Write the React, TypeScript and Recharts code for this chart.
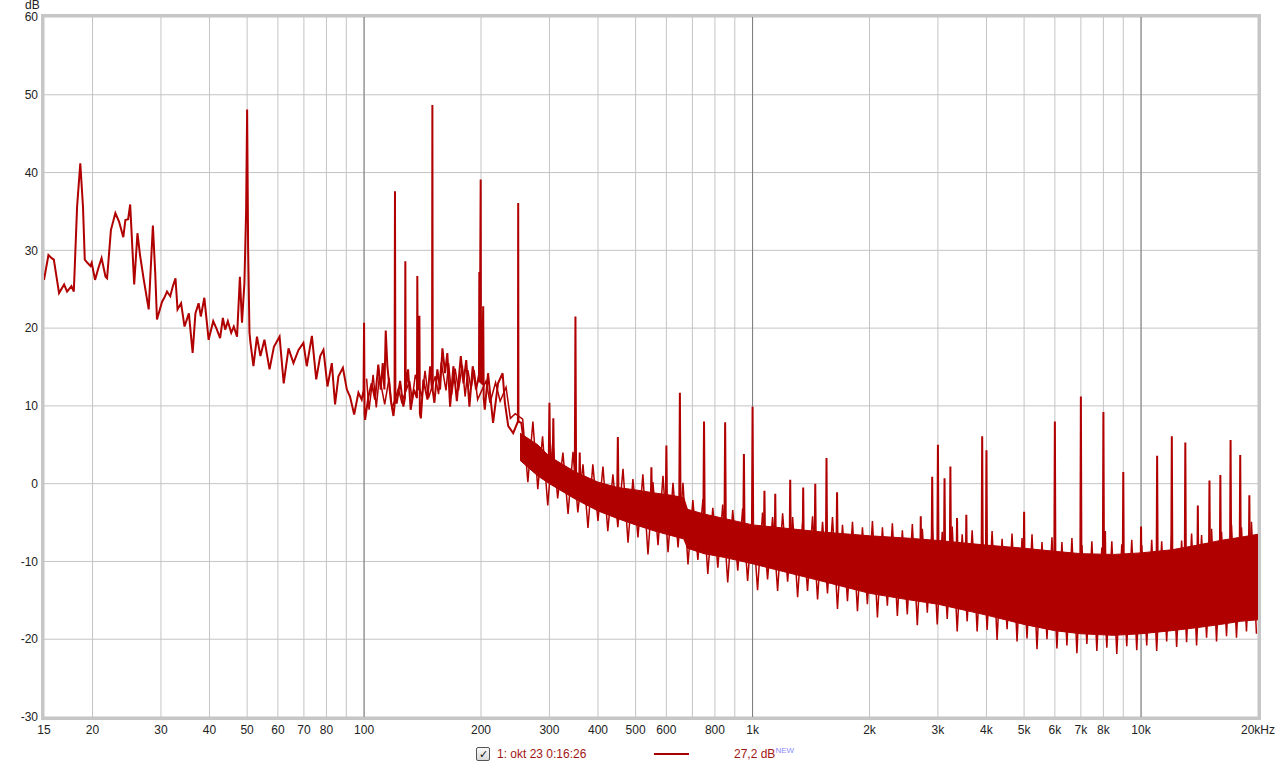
import React from 'react';
import {
  ComposedChart,
  Line,
  Area,
  XAxis,
  YAxis,
  CartesianGrid,
} from 'recharts';

// ---- Trace (line): low-frequency detail + harmonic spikes over the noise floor ----
const traceFreq = [
  15.0, 15.4, 15.7, 15.9, 16.4, 16.9, 17.2, 17.65, 17.9, 18.25, 18.6, 18.9, 19.1, 19.4, 19.75, 19.9,
  20.3, 20.7, 21.1, 21.6, 21.8, 22.3, 22.9, 23.4, 24.0, 24.3, 24.7, 25.0, 25.6, 26.1, 26.5, 27.1,
  27.9, 28.6, 29.0, 29.3, 30.2, 30.6, 31.1, 31.7, 32.2, 32.7, 33.1, 33.8, 34.5, 35.4, 36.2, 36.8,
  37.5, 38.0, 38.8, 39.8, 40.9, 41.8, 42.6, 43.3, 43.9, 44.6, 45.5, 46.2, 47.1, 47.9, 48.5, 49.2,
  49.7, 50.0, 50.3, 50.7, 51.0, 51.9, 53.0, 54.1, 55.4, 57.1, 58.6, 60.6, 62.1, 63.9, 65.8, 67.8,
  69.8, 71.2, 73.4, 75.3, 77.1, 78.6, 80.5, 82.6, 84.2, 85.9, 88.2, 90.3, 92.0, 94.3, 96.7, 98.6,
  99.7, 100.0, 100.3, 100.6, 102.6, 104.6, 106.7, 108.8, 110.4, 111.7, 112.8, 113.7, 114.8, 117.1, 119.0, 119.8,
  120.1, 120.4, 121.4, 123.8, 126.2, 127.4, 127.7, 128.0, 129.8, 131.8, 134.4, 136.8, 137.1, 137.5, 138.8, 139.2,
  140.0, 142.1, 145.6, 147.9, 149.6, 149.9, 150.2, 151.7, 154.4, 156.9, 159.1, 161.6, 163.8, 166.5, 169.8, 173.3,
  177.4, 180.2, 183.2, 186.7, 190.4, 194.2, 197.6, 198.0, 198.4, 199.6, 200.0, 201.0, 202.6, 203.2, 204.5, 208.5,
  214.8, 221.2, 227.3, 230.4, 235.0, 242.0, 248.9, 249.3, 249.7, 254.0, 258.0,
  298.8, 300, 301.2, 305.8, 307, 308.2, 348.6, 350, 351.4, 357.6, 359, 360.4,
  448.2, 450, 451.8, 546.8, 549, 551.2, 597.6, 600, 602.4, 647.4, 650, 652.6,
  747, 750, 753, 846.6, 850, 853.4, 946.2, 950, 953.8, 996, 1000, 1004,
  1069, 1073, 1077, 1140, 1144, 1148, 1245, 1250, 1255, 1345, 1350, 1355,
  1444, 1450, 1456, 1544, 1550, 1556, 1643, 1650, 1657, 2700, 2710, 2720,
  2888, 2900, 2912, 2988, 3000, 3012, 3108, 3120, 3132, 3217, 3230, 3243,
  3346, 3360, 3374, 3536, 3550, 3564, 3884, 3900, 3916, 3984, 4000, 4016,
  4980, 5000, 5020, 5976, 6000, 6024, 6972, 7000, 7028, 7968, 8000, 8032, 8080, 8110,
  8964, 9000, 9036, 9960, 10000, 10040, 10956, 11000, 11044, 11952, 12000, 12048,
  12948, 13000, 13052, 13944, 14000, 14056, 14940, 15000, 15060, 15936, 16000, 16064,
  16932, 17000, 17068, 17928, 18000, 18072, 18924, 19000, 19076, 20000,
];
const traceDb = [
  26.2, 29.4, 29.0, 28.8, 24.5, 25.6, 24.7, 25.4, 24.7, 35.6, 41.2, 35.6, 28.8, 28.4, 28.0, 28.4,
  26.2, 27.7, 29.0, 26.6, 26.4, 32.6, 34.8, 33.7, 31.7, 33.9, 34.0, 35.9, 25.6, 32.2, 29.4, 26.2,
  22.4, 33.2, 27.1, 21.1, 23.4, 23.9, 24.7, 24.1, 25.4, 26.4, 22.4, 23.2, 20.2, 21.9, 16.8, 21.9,
  23.2, 21.5, 23.9, 18.5, 20.9, 19.8, 18.7, 21.3, 19.8, 20.9, 19.4, 20.2, 18.9, 26.6, 20.7, 25.8,
  35.0, 48.1, 30.0, 19.4, 18.1, 15.1, 18.9, 16.4, 18.5, 14.7, 17.6, 18.9, 12.9, 17.4, 15.5, 17.2,
  18.1, 15.1, 19.0, 13.4, 16.4, 17.2, 12.5, 15.5, 10.2, 13.8, 14.9, 12.1, 11.2, 8.9, 11.7, 10.8,
  12.0, 20.7, 9.0, 8.2, 11.2, 12.9, 10.8, 15.3, 12.1, 15.5, 12.1, 19.7, 15.1, 10.8, 8.7, 10.0,
  37.6, 10.4, 10.4, 13.2, 9.9, 11.0, 28.6, 12.0, 14.7, 9.5, 12.1, 11.0, 26.7, 12.0, 21.6, 9.0,
  8.4, 13.4, 10.8, 15.1, 12.0, 48.7, 12.0, 10.4, 14.7, 12.1, 17.4, 14.2, 16.8, 9.9, 15.1, 10.6,
  16.4, 12.9, 15.9, 9.9, 15.1, 12.1, 14.0, 27.2, 13.0, 39.1, 13.0, 12.9, 22.8, 11.0, 9.5, 14.2,
  7.8, 12.9, 14.2, 10.4, 7.4, 6.5, 8.0, 36.1, 8.0, 7.8, 5.0,
  3, 10.4, 3, 2, 8.4, 2, 0, 21.5, 0, -1, 4.0, -1,
  -2, 6.0, -2, -3, 2.1, -3, -3, 4.9, -3, -3.5, 11.7, -3.5,
  -5, 8.0, -5, -6, 7.9, -6, -7, 3.8, -7, -7, 9.9, -7,
  -8, -0.9, -8, -8, -1.3, -8, -9, 0.5, -9, -9, -0.5, -9,
  -9, 0.0, -9, -9.5, 3.3, -9.5, -10, -1.1, -10, -11, -4.2, -11,
  -11, 0.9, -11, -11, 5.0, -11, -11, 0.7, -11, -12, 2.2, -12,
  -12, -4.4, -12, -12, -4.0, -12, -12.5, 6.1, -12.5, -12.5, 4.3, -12.5,
  -13.5, -3.6, -13.5, -14, 8.0, -14, -14.5, 11.2, -14.5, -14.5, 9.2, -14, -6.1, -14,
  -14.5, 1.5, -14.5, -14.5, -5.5, -14.5, -14, 3.6, -14, -14, 6.1, -14,
  -13.5, 5.3, -13.5, -13.5, -2.8, -13.5, -13, 0.4, -13, -13, 1.1, -13,
  -12.5, 5.6, -12.5, -12, 3.7, -12, -12, -1.5, -12, -12,
];

// ---- Fine noise (thin line): jitter of the 100 Hz – 20 kHz floor ----
const noiseFreq = [
  101.5, 103, 105.5, 107.5, 109.5, 113, 116, 118, 122.5, 125, 131, 133, 135.5, 141, 143.5, 146.5,
  152.5, 155.5, 158, 162.5, 165, 168, 171.5, 175, 179, 182, 185, 188.5, 192, 196, 206, 211,
  218, 224, 232, 238, 245,
  256, 264, 272, 280, 288, 297, 306, 315, 325, 335, 345, 355, 366, 377, 388, 400,
  412, 424, 437, 450, 464, 478, 492, 507, 522, 538, 554, 571, 588, 606, 624, 643,
  662, 682, 702, 723, 745, 767, 790, 814, 838, 863, 889, 916, 943, 971, 1000, 1030,
  1061, 1093, 1126, 1160, 1195, 1231, 1268, 1306, 1345, 1385, 1427, 1470, 1514, 1559, 1606, 1654,
  1704, 1755, 1808, 1862, 1918, 1975, 2035, 2096, 2159, 2223, 2290, 2359, 2430, 2502, 2578, 2655,
  2735, 2817, 2901, 2988, 3078, 3170, 3265, 3363, 3464, 3568, 3675, 3785, 3899, 4016, 4136, 4260,
  4388, 4520, 4655, 4795, 4939, 5087, 5240, 5397, 5559, 5726, 5897, 6074, 6256, 6444, 6638, 6837,
  7042, 7253, 7471, 7695, 7926, 8164, 8409, 8661, 8921, 9188, 9464, 9748, 10040, 10342, 10652, 10971,
  11301, 11640, 11989, 12348, 12719, 13100, 13493, 13898, 14315, 14745, 15187, 15642, 16112, 16595, 17093, 17606,
  18134, 18678, 19238, 19816,
];
const noiseDb = [
  13.5, 9.5, 14.0, 9.8, 13.8, 10.2, 13.6, 9.6, 12.2, 10.5, 13.2, 10.8, 14.0, 11.2, 14.5, 11.0,
  13.8, 11.5, 15.6, 12.0, 15.5, 11.4, 14.8, 12.0, 15.2, 11.2, 14.6, 12.2, 14.6, 10.8, 13.2, 10.4,
  13.0, 10.6, 12.4, 8.4, 9.0,
  8.3, 0.2, 8.0, -0.7, 6.1, -2.8, 5.4, -1.9, 4.0, -3.9, 4.1, -3.7, 2.5, -5.7, 2.5, -4.8,
  2.2, -6.1, 1.2, -5.6, 1.9, -7.6, 0.6, -6.9, 1.2, -9.1, 0.2, -7.9, 1.0, -8.8, 0.1, -8.2,
  0.1, -10.4, -2.1, -9.8, -2.0, -11.6, -3.1, -10.8, -2.7, -12.7, -3.4, -11.2, -3.2, -12.5, -4.2, -13.7,
  -3.7, -12.3, -4.3, -13.8, -3.8, -12.6, -4.3, -14.6, -5.0, -13.8, -4.2, -14.9, -4.9, -14.1, -4.3, -16.1,
  -5.3, -15.1, -4.9, -16.4, -5.6, -15.5, -4.8, -17.2, -5.6, -15.7, -5.1, -17.0, -6.0, -16.8, -5.2, -18.2,
  -5.8, -16.6, -5.5, -18.1, -6.2, -17.4, -5.5, -19.0, -6.5, -17.7, -6.0, -19.0, -6.6, -18.8, -6.1, -20.1,
  -7.1, -18.7, -6.4, -20.3, -7.0, -19.9, -6.5, -21.3, -7.5, -20.0, -6.9, -21.2, -7.5, -20.8, -7.0, -21.8,
  -7.9, -20.6, -7.4, -21.5, -8.2, -21.1, -7.4, -21.9, -7.8, -20.9, -7.2, -21.4, -7.9, -20.8, -7.2, -21.5,
  -7.4, -20.3, -6.6, -21.0, -7.3, -20.4, -6.4, -20.8, -6.6, -19.8, -5.8, -20.3, -6.2, -19.6, -5.3, -19.8,
  -5.6, -19.0, -4.9, -19.3,
];

// ---- Dense noise floor core (range band) ----
const bandFreq = [
  252, 280, 300, 350, 400, 450, 500, 560, 620, 665, 680, 750, 850, 1000, 1200, 1500,
  2000, 2500, 3000, 4000, 5000, 6000, 7000, 8500, 10000, 12000, 14000, 16000, 18000, 20000,
];
const bandLow = [
  3.0, 1.0, 0.0, -2.0, -3.5, -4.5, -5.3, -6.1, -6.7, -7.1, -8.3, -9.0, -9.5, -10.3, -11.3, -12.5,
  -14.1, -14.9, -15.5, -16.9, -18.1, -18.9, -19.3, -19.5, -19.3, -18.9, -18.5, -18.1, -17.7, -17.5,
];
const bandHigh = [
  6.5, 5.0, 3.5, 1.5, 0.2, -0.5, -0.8, -1.2, -1.5, -1.8, -3.3, -3.9, -4.5, -5.3, -5.7, -6.2,
  -6.7, -7.0, -7.3, -7.9, -8.3, -8.7, -9.0, -9.1, -8.9, -8.5, -7.9, -7.3, -6.9, -6.5,
];

// ---- Axes ----
const xTicks = [
  15, 20, 30, 40, 50, 60, 70, 80, 90, 100, 200, 300, 400, 500, 600, 700, 800, 900,
  1000, 2000, 3000, 4000, 5000, 6000, 7000, 8000, 9000, 10000, 20000,
];
const xTickLabels = [
  '15', '20', '30', '40', '50', '60', '70', '80', '', '100', '200', '300', '400', '500', '600', '', '800', '',
  '1k', '2k', '3k', '4k', '5k', '6k', '7k', '8k', '', '10k', '20kHz',
];
const yTicks = [-30, -20, -10, 0, 10, 20, 30, 40, 50, 60];
const decadeLines = [100, 1000, 10000];

type Row = { f: number; db?: number; nz?: number; band?: [number, number] };
const rows: Row[] = [];
traceFreq.forEach((f, i) => rows.push({ f, db: traceDb[i] }));
noiseFreq.forEach((f, i) => rows.push({ f, nz: noiseDb[i] }));
bandFreq.forEach((f, i) => rows.push({ f, band: [bandLow[i], bandHigh[i]] }));
rows.sort((a, b) => a.f - b.f);

const RED = '#b00000';
const FONT = '"Liberation Sans", Arial, sans-serif';

const fmtX = (v: number) => {
  const i = xTicks.indexOf(v);
  return i >= 0 ? xTickLabels[i] : '';
};

export default function App() {
  return (
    <div style={{ position: 'absolute', left: 0, top: 0, width: 1280, height: 769, background: '#fff', fontFamily: FONT }}>
      <div style={{ position: 'absolute', left: 25, top: 0, fontSize: 12, lineHeight: '10px', color: '#222' }}>dB</div>
      <ComposedChart
        width={1280}
        height={769}
        data={rows}
        margin={{ top: 17, right: 22, bottom: 32, left: 0 }}
      >
        <CartesianGrid stroke="#c4c4c4" strokeWidth={1} />
        <CartesianGrid
          horizontal={false}
          vertical
          verticalValues={decadeLines}
          stroke="#7c7c7c"
          strokeWidth={1}
        />
        <XAxis
          dataKey="f"
          type="number"
          scale="log"
          domain={[15, 20000]}
          ticks={xTicks}
          interval={0}
          allowDataOverflow
          tickFormatter={fmtX}
          tickLine={false}
          axisLine={false}
          tickSize={0}
          tickMargin={8}
          height={20}
          tick={{ fill: '#222', fontSize: 12, fontFamily: FONT }}
        />
        <YAxis
          type="number"
          domain={[-30, 60]}
          ticks={yTicks}
          interval={0}
          allowDataOverflow
          width={44}
          tickLine={false}
          axisLine={false}
          tickSize={0}
          tickMargin={6}
          tick={{ fill: '#222', fontSize: 12, fontFamily: FONT }}
        />
        <Area
          dataKey="band"
          type="linear"
          stroke={RED}
          strokeWidth={1}
          fill={RED}
          fillOpacity={1}
          connectNulls
          isAnimationActive={false}
          dot={false}
          activeDot={false}
        />
        <Line
          dataKey="nz"
          type="linear"
          stroke={RED}
          strokeWidth={1.5}
          dot={false}
          activeDot={false}
          connectNulls
          isAnimationActive={false}
        />
        <Line
          dataKey="db"
          type="linear"
          stroke={RED}
          strokeWidth={2}
          dot={false}
          activeDot={false}
          connectNulls
          isAnimationActive={false}
        />
      </ComposedChart>
      {/* plot frame */}
      <div
        style={{
          position: 'absolute', left: 41, top: 14, width: 1220, height: 706, boxSizing: 'border-box',
          border: '3px solid #c6c6c6', pointerEvents: 'none',
        }}
      />
      {/* Legend */}
      <div
        style={{
          position: 'absolute', left: 476, top: 747, width: 12, height: 12,
          border: '1px solid #555', borderRadius: 2, background: 'linear-gradient(#fafafa,#d8d8d8)',
          fontSize: 11, lineHeight: '12px', textAlign: 'center', color: '#111',
        }}
      >
        ✓
      </div>
      <div style={{ position: 'absolute', left: 497, top: 747, fontSize: 12, lineHeight: '14px', color: '#a31515' }}>
        1: okt 23 0:16:26
      </div>
      <div style={{ position: 'absolute', left: 654, top: 753, width: 35, height: 2, background: '#a80000' }} />
      <div style={{ position: 'absolute', left: 734, top: 747, fontSize: 12, lineHeight: '14px', color: '#a31515', whiteSpace: 'nowrap' }}>
        27,2 dB
        <span style={{ fontSize: 8, color: '#8c8cff', verticalAlign: 'top', lineHeight: '8px' }}>NEW</span>
      </div>
    </div>
  );
}
